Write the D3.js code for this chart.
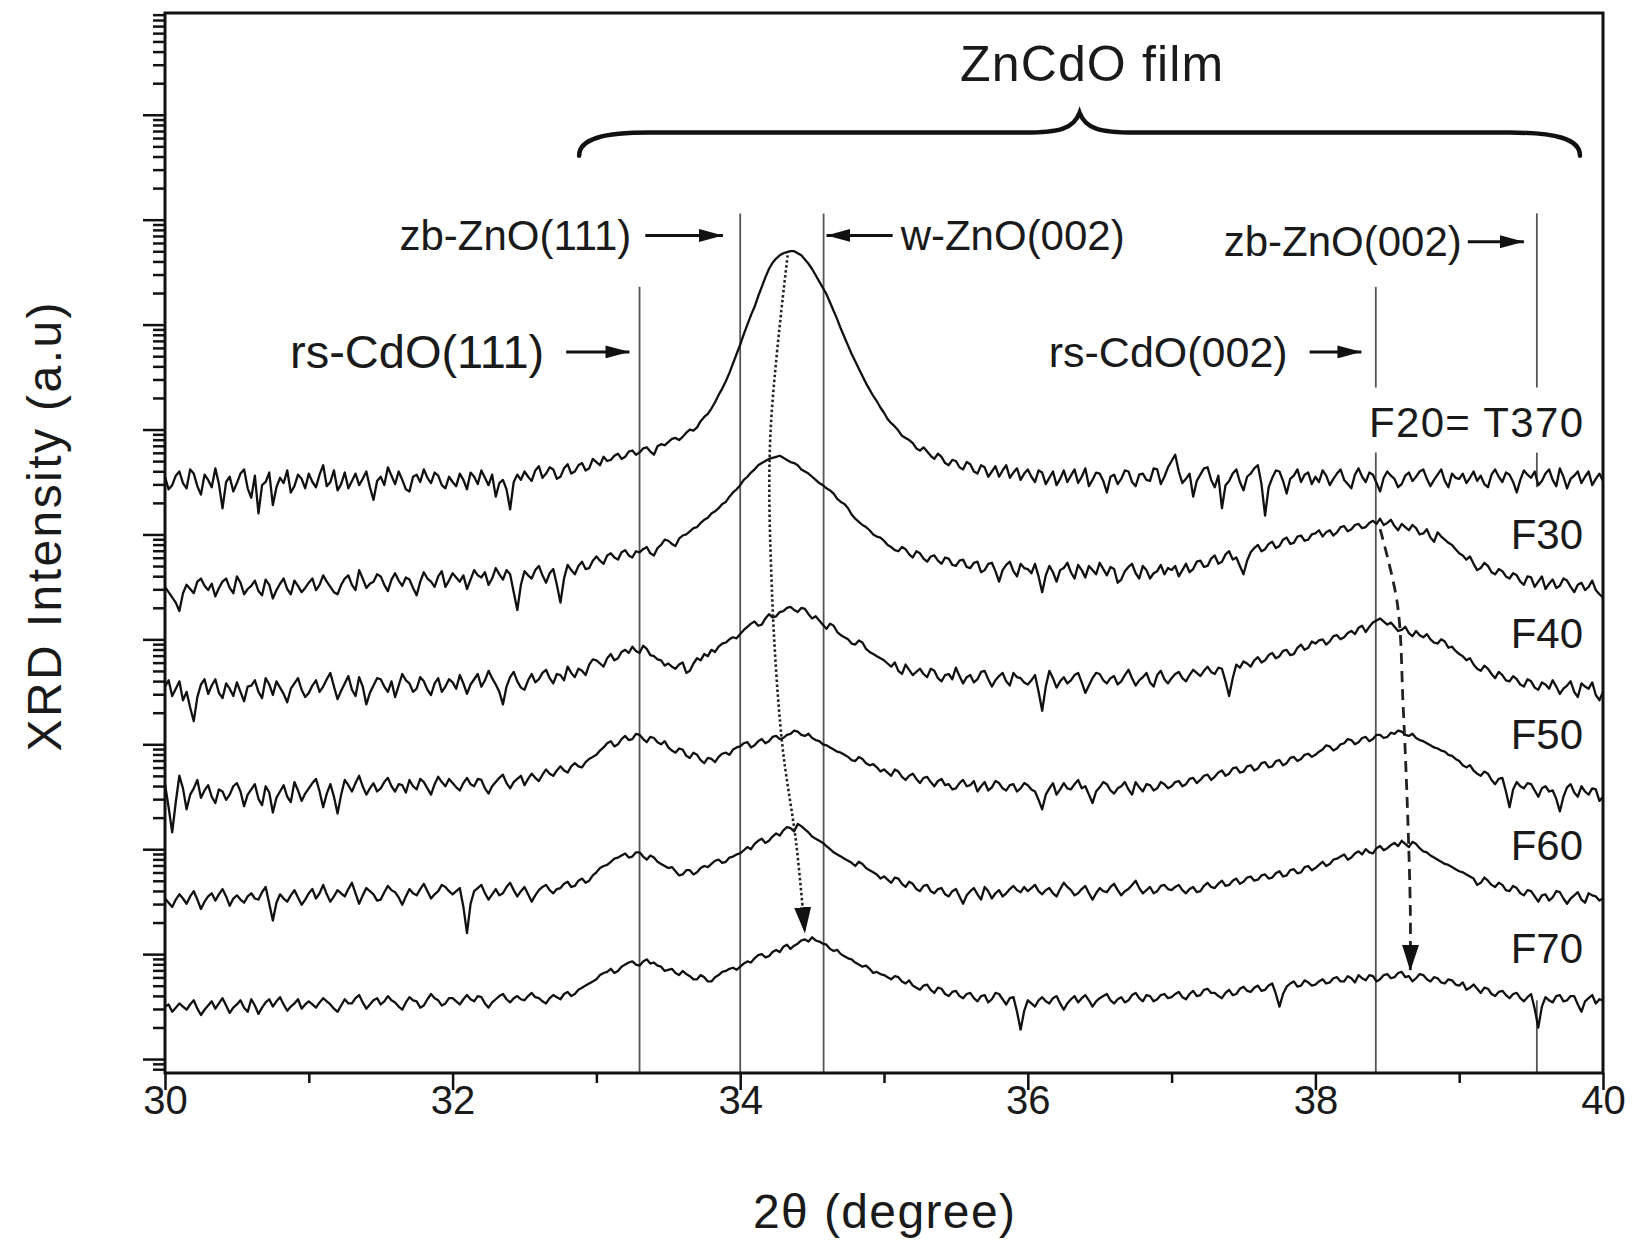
<!DOCTYPE html>
<html>
<head>
<meta charset="utf-8">
<script src="https://cdn.jsdelivr.net/npm/d3@7"></script>
<style>
  body { margin: 0; background: #fff; }
  svg text { font-family: Arial, "Liberation Sans", Helvetica, sans-serif; fill: #1a1a1a; }
</style>
</head>
<body>
<script>
const WIDTH = 1635;
const HEIGHT = 1243;

// 2-theta range of the scans; every curve is sampled evenly over it (0.025 deg)
const thetaStart = 30;
const thetaEnd = 40;

// curves, log10 of intensity (stacking offsets included)
const f20 = [
  5.55, 5.43, 5.47, 5.56, 5.60, 5.49, 5.44, 5.62, 5.58, 5.46, 5.38, 5.57, 5.52, 5.45, 5.63, 5.48, 5.25, 5.50, 5.55, 5.41, 5.49, 5.58, 5.62, 5.44, 5.35, 5.56, 5.20, 5.47, 5.50, 5.59, 5.28, 5.45, 5.54, 5.49, 5.61, 5.40, 5.46, 5.57, 5.53, 5.44,
  5.58, 5.50, 5.45, 5.57, 5.66, 5.46, 5.50, 5.61, 5.42, 5.48, 5.59, 5.44, 5.51, 5.58, 5.47, 5.53, 5.60, 5.45, 5.33, 5.51, 5.55, 5.47, 5.64, 5.56, 5.48, 5.60, 5.52, 5.43, 5.41, 5.55, 5.57, 5.50, 5.62, 5.54, 5.49, 5.59, 5.56, 5.47, 5.44, 5.55,
  5.50, 5.46, 5.58, 5.52, 5.43, 5.59, 5.55, 5.48, 5.61, 5.54, 5.47, 5.57, 5.36, 5.49, 5.52, 5.43, 5.24, 5.50, 5.57, 5.52, 5.60, 5.55, 5.51, 5.61, 5.65, 5.54, 5.58, 5.64, 5.62, 5.53, 5.55, 5.63, 5.67, 5.58, 5.60, 5.66, 5.68, 5.61, 5.63, 5.72,
  5.69, 5.66, 5.74, 5.70, 5.71, 5.75, 5.77, 5.72, 5.74, 5.79, 5.80, 5.76, 5.78, 5.82, 5.83, 5.79, 5.76, 5.84, 5.86, 5.85, 5.88, 5.91, 5.92, 5.90, 5.93, 5.97, 6.00, 5.99, 6.02, 6.08, 6.12, 6.15, 6.20, 6.26, 6.33, 6.39, 6.46, 6.54, 6.63, 6.72,
  6.81, 6.91, 7.00, 7.09, 7.17, 7.27, 7.36, 7.45, 7.53, 7.59, 7.63, 7.66, 7.68, 7.69, 7.70, 7.70, 7.68, 7.66, 7.62, 7.58, 7.53, 7.47, 7.41, 7.35, 7.29, 7.21, 7.13, 7.05, 6.96, 6.88, 6.80, 6.72, 6.65, 6.58, 6.51, 6.44, 6.38, 6.32, 6.27, 6.21,
  6.16, 6.10, 6.06, 6.03, 5.99, 5.94, 5.92, 5.90, 5.87, 5.82, 5.80, 5.83, 5.79, 5.75, 5.72, 5.77, 5.74, 5.68, 5.66, 5.71, 5.70, 5.64, 5.62, 5.69, 5.67, 5.60, 5.58, 5.66, 5.64, 5.55, 5.60, 5.65, 5.55, 5.61, 5.66, 5.54, 5.59, 5.63, 5.52, 5.58,
  5.62, 5.55, 5.50, 5.61, 5.59, 5.48, 5.54, 5.60, 5.47, 5.53, 5.61, 5.50, 5.56, 5.62, 5.49, 5.55, 5.63, 5.46, 5.52, 5.59, 5.58, 5.51, 5.40, 5.55, 5.57, 5.48, 5.53, 5.61, 5.60, 5.50, 5.46, 5.57, 5.58, 5.52, 5.51, 5.63, 5.62, 5.48, 5.55, 5.64,
  5.70, 5.76, 5.60, 5.49, 5.53, 5.58, 5.36, 5.51, 5.57, 5.63, 5.64, 5.52, 5.45, 5.56, 5.25, 5.47, 5.51, 5.58, 5.62, 5.50, 5.42, 5.55, 5.58, 5.63, 5.66, 5.48, 5.18, 5.45, 5.54, 5.61, 5.60, 5.51, 5.39, 5.53, 5.56, 5.62, 5.50, 5.57, 5.59, 5.48,
  5.55, 5.50, 5.61, 5.56, 5.47, 5.53, 5.58, 5.62, 5.52, 5.48, 5.44, 5.57, 5.63, 5.55, 5.50, 5.59, 5.57, 5.49, 5.41, 5.54, 5.60, 5.56, 5.53, 5.45, 5.48, 5.56, 5.59, 5.51, 5.55, 5.60, 5.62, 5.53, 5.46, 5.52, 5.57, 5.62, 5.51, 5.45, 5.58, 5.54,
  5.53, 5.58, 5.49, 5.54, 5.60, 5.51, 5.56, 5.48, 5.45, 5.57, 5.62, 5.55, 5.50, 5.59, 5.57, 5.50, 5.40, 5.52, 5.61, 5.57, 5.54, 5.60, 5.47, 5.51, 5.58, 5.62, 5.52, 5.46, 5.63, 5.55, 5.44, 5.53, 5.56, 5.60, 5.49, 5.55, 5.60, 5.47, 5.53, 5.58,
  5.51
];
const f30 = [
  4.50, 4.45, 4.40, 4.35, 4.27, 4.44, 4.52, 4.48, 4.44, 4.55, 4.58, 4.51, 4.47, 4.53, 4.41, 4.49, 4.55, 4.58, 4.49, 4.44, 4.60, 4.54, 4.43, 4.48, 4.51, 4.56, 4.46, 4.42, 4.57, 4.52, 4.39, 4.47, 4.53, 4.58, 4.48, 4.43, 4.56, 4.51, 4.45, 4.49,
  4.54, 4.58, 4.47, 4.52, 4.61, 4.55, 4.50, 4.45, 4.43, 4.52, 4.58, 4.61, 4.52, 4.47, 4.66, 4.58, 4.49, 4.53, 4.55, 4.62, 4.60, 4.52, 4.46, 4.57, 4.63, 4.56, 4.51, 4.59, 4.57, 4.49, 4.42, 4.55, 4.64, 4.58, 4.55, 4.50, 4.60, 4.65, 4.50, 4.56,
  4.63, 4.59, 4.55, 4.61, 4.48, 4.57, 4.66, 4.61, 4.59, 4.64, 4.52, 4.58, 4.68, 4.62, 4.57, 4.66, 4.62, 4.45, 4.28, 4.52, 4.65, 4.61, 4.58, 4.66, 4.70, 4.61, 4.54, 4.63, 4.67, 4.52, 4.35, 4.58, 4.71, 4.66, 4.62, 4.70, 4.74, 4.67, 4.68, 4.75,
  4.79, 4.75, 4.72, 4.80, 4.82, 4.78, 4.76, 4.83, 4.85, 4.80, 4.78, 4.84, 4.83, 4.86, 4.88, 4.82, 4.80, 4.87, 4.90, 4.95, 4.94, 4.91, 4.89, 4.96, 4.99, 5.00, 5.03, 5.06, 5.07, 5.11, 5.14, 5.16, 5.20, 5.22, 5.25, 5.29, 5.31, 5.36, 5.40, 5.43,
  5.47, 5.52, 5.55, 5.59, 5.62, 5.66, 5.68, 5.70, 5.72, 5.73, 5.74, 5.75, 5.73, 5.71, 5.69, 5.68, 5.66, 5.62, 5.60, 5.58, 5.55, 5.52, 5.49, 5.47, 5.44, 5.42, 5.39, 5.34, 5.31, 5.29, 5.25, 5.19, 5.15, 5.12, 5.09, 5.07, 5.04, 5.00, 4.98, 4.97,
  4.94, 4.90, 4.88, 4.85, 4.84, 4.88, 4.86, 4.81, 4.78, 4.84, 4.82, 4.77, 4.74, 4.79, 4.80, 4.75, 4.72, 4.78, 4.77, 4.71, 4.70, 4.75, 4.76, 4.69, 4.68, 4.73, 4.74, 4.64, 4.66, 4.72, 4.73, 4.65, 4.55, 4.66, 4.71, 4.74, 4.65, 4.60, 4.72, 4.68,
  4.67, 4.63, 4.72, 4.60, 4.45, 4.61, 4.70, 4.64, 4.55, 4.66, 4.68, 4.73, 4.64, 4.58, 4.71, 4.66, 4.59, 4.70, 4.66, 4.62, 4.73, 4.67, 4.61, 4.69, 4.67, 4.54, 4.57, 4.65, 4.69, 4.72, 4.63, 4.58, 4.70, 4.66, 4.58, 4.63, 4.65, 4.71, 4.62, 4.68,
  4.66, 4.70, 4.60, 4.66, 4.72, 4.64, 4.67, 4.74, 4.75, 4.69, 4.70, 4.77, 4.80, 4.72, 4.74, 4.81, 4.84, 4.76, 4.78, 4.70, 4.62, 4.75, 4.83, 4.87, 4.90, 4.84, 4.86, 4.91, 4.93, 4.87, 4.89, 4.95, 4.97, 4.91, 4.92, 4.98, 4.99, 4.94, 4.95, 5.00,
  5.01, 5.04, 4.98, 5.02, 5.04, 4.99, 5.02, 5.07, 5.08, 5.03, 5.05, 5.09, 5.10, 5.06, 5.07, 5.11, 5.13, 5.10, 5.15, 5.09, 5.11, 5.14, 5.08, 5.04, 5.10, 5.07, 5.04, 5.09, 5.06, 5.00, 5.01, 5.05, 4.97, 4.93, 5.02, 4.98, 4.95, 4.92, 4.90, 4.86,
  4.82, 4.80, 4.76, 4.79, 4.72, 4.66, 4.68, 4.73, 4.70, 4.64, 4.62, 4.67, 4.65, 4.60, 4.58, 4.63, 4.61, 4.55, 4.52, 4.60, 4.59, 4.50, 4.55, 4.60, 4.48, 4.53, 4.57, 4.49, 4.51, 4.58, 4.56, 4.50, 4.45, 4.52, 4.54, 4.47, 4.50, 4.56, 4.47, 4.43,
  4.40
];
const f40 = [
  3.55, 3.61, 3.46, 3.53, 3.60, 3.42, 3.50, 3.35, 3.22, 3.45, 3.57, 3.62, 3.48, 3.56, 3.62, 3.49, 3.44, 3.58, 3.53, 3.46, 3.59, 3.50, 3.41, 3.55, 3.56, 3.61, 3.50, 3.44, 3.63, 3.57, 3.47, 3.60, 3.54, 3.48, 3.40, 3.53, 3.58, 3.63, 3.52, 3.45,
  3.49, 3.56, 3.61, 3.50, 3.55, 3.62, 3.68, 3.55, 3.43, 3.51, 3.58, 3.65, 3.52, 3.46, 3.64, 3.55, 3.38, 3.49, 3.56, 3.63, 3.62, 3.55, 3.50, 3.60, 3.45, 3.56, 3.67, 3.61, 3.58, 3.50, 3.53, 3.64, 3.60, 3.52, 3.47, 3.58, 3.63, 3.50, 3.55, 3.62,
  3.59, 3.53, 3.66, 3.58, 3.48, 3.57, 3.62, 3.67, 3.55, 3.61, 3.70, 3.63, 3.57, 3.50, 3.38, 3.55, 3.64, 3.69, 3.60, 3.54, 3.52, 3.61, 3.67, 3.59, 3.62, 3.68, 3.71, 3.63, 3.58, 3.67, 3.66, 3.61, 3.74, 3.68, 3.64, 3.72, 3.70, 3.66, 3.76, 3.81,
  3.80, 3.77, 3.74, 3.82, 3.86, 3.80, 3.82, 3.88, 3.90, 3.87, 3.93, 3.89, 3.87, 3.94, 3.91, 3.85, 3.84, 3.81, 3.80, 3.75, 3.77, 3.74, 3.72, 3.76, 3.78, 3.68, 3.70, 3.77, 3.82, 3.80, 3.86, 3.84, 3.90, 3.88, 3.93, 3.96, 3.97, 4.00, 4.02, 4.01,
  4.05, 4.09, 4.12, 4.15, 4.17, 4.13, 4.14, 4.20, 4.24, 4.21, 4.22, 4.26, 4.27, 4.30, 4.31, 4.28, 4.26, 4.30, 4.29, 4.24, 4.20, 4.22, 4.18, 4.14, 4.10, 4.15, 4.13, 4.07, 4.04, 4.02, 4.00, 3.96, 3.95, 3.99, 3.97, 3.91, 3.88, 3.86, 3.84, 3.82,
  3.80, 3.77, 3.74, 3.78, 3.70, 3.67, 3.76, 3.71, 3.66, 3.69, 3.72, 3.67, 3.64, 3.72, 3.70, 3.63, 3.60, 3.66, 3.67, 3.62, 3.73, 3.65, 3.58, 3.64, 3.66, 3.59, 3.62, 3.69, 3.70, 3.62, 3.55, 3.61, 3.65, 3.68, 3.60, 3.56, 3.68, 3.64, 3.63, 3.59,
  3.57, 3.61, 3.66, 3.50, 3.32, 3.55, 3.70, 3.63, 3.54, 3.60, 3.64, 3.58, 3.61, 3.66, 3.68, 3.59, 3.49, 3.56, 3.63, 3.68, 3.67, 3.61, 3.58, 3.63, 3.65, 3.57, 3.60, 3.66, 3.71, 3.63, 3.56, 3.61, 3.64, 3.68, 3.59, 3.55, 3.66, 3.70, 3.62, 3.58,
  3.63, 3.67, 3.69, 3.63, 3.60, 3.66, 3.71, 3.68, 3.65, 3.70, 3.74, 3.69, 3.67, 3.73, 3.72, 3.60, 3.46, 3.63, 3.76, 3.73, 3.79, 3.77, 3.74, 3.80, 3.83, 3.78, 3.80, 3.85, 3.87, 3.82, 3.84, 3.89, 3.90, 3.85, 3.86, 3.92, 3.95, 3.90, 3.92, 3.98,
  3.96, 3.99, 4.00, 3.95, 3.98, 4.03, 4.04, 4.00, 4.02, 4.06, 4.08, 4.05, 4.11, 4.13, 4.07, 4.12, 4.16, 4.18, 4.20, 4.17, 4.14, 4.16, 4.12, 4.08, 4.09, 4.12, 4.06, 4.03, 4.08, 4.04, 4.02, 4.05, 4.00, 3.97, 3.96, 4.00, 3.98, 3.92, 3.93, 3.89,
  3.86, 3.84, 3.80, 3.82, 3.76, 3.72, 3.70, 3.75, 3.72, 3.67, 3.63, 3.69, 3.66, 3.61, 3.60, 3.65, 3.62, 3.57, 3.55, 3.62, 3.60, 3.54, 3.52, 3.59, 3.57, 3.53, 3.61, 3.55, 3.48, 3.53, 3.56, 3.60, 3.50, 3.45, 3.58, 3.55, 3.53, 3.59, 3.47, 3.42,
  3.50
];
const f50 = [
  2.62, 2.40, 2.16, 2.45, 2.70, 2.58, 2.38, 2.52, 2.58, 2.66, 2.49, 2.56, 2.61, 2.50, 2.44, 2.57, 2.55, 2.47, 2.52, 2.60, 2.63, 2.55, 2.41, 2.52, 2.57, 2.62, 2.48, 2.42, 2.60, 2.54, 2.35, 2.49, 2.55, 2.61, 2.50, 2.45, 2.64, 2.56, 2.46, 2.53,
  2.58, 2.63, 2.67, 2.55, 2.40, 2.53, 2.62, 2.50, 2.34, 2.52, 2.66, 2.61, 2.55, 2.63, 2.70, 2.60, 2.52, 2.58, 2.63, 2.55, 2.58, 2.64, 2.68, 2.60, 2.55, 2.62, 2.61, 2.54, 2.66, 2.60, 2.57, 2.67, 2.64, 2.58, 2.52, 2.62, 2.69, 2.64, 2.60, 2.67,
  2.63, 2.59, 2.56, 2.63, 2.68, 2.62, 2.60, 2.67, 2.66, 2.58, 2.53, 2.60, 2.64, 2.68, 2.71, 2.63, 2.58, 2.64, 2.67, 2.70, 2.61, 2.67, 2.72, 2.68, 2.65, 2.71, 2.76, 2.72, 2.70, 2.75, 2.79, 2.75, 2.73, 2.79, 2.82, 2.79, 2.78, 2.83, 2.86, 2.88,
  2.90, 2.94, 2.97, 3.01, 3.03, 2.98, 3.00, 3.05, 3.08, 3.04, 3.05, 3.10, 3.09, 3.05, 3.02, 3.07, 3.06, 3.02, 3.00, 3.03, 2.97, 2.94, 2.92, 2.96, 2.95, 2.89, 2.87, 2.92, 2.90, 2.85, 2.82, 2.87, 2.86, 2.83, 2.88, 2.91, 2.92, 2.90, 2.95, 2.97,
  2.98, 3.01, 3.02, 2.97, 2.99, 3.03, 3.05, 3.01, 3.03, 3.07, 3.08, 3.05, 3.06, 3.09, 3.10, 3.13, 3.12, 3.09, 3.08, 3.10, 3.06, 3.04, 3.03, 3.00, 2.99, 2.97, 2.95, 2.93, 2.92, 2.90, 2.88, 2.85, 2.84, 2.88, 2.86, 2.82, 2.80, 2.81, 2.78, 2.74,
  2.76, 2.73, 2.70, 2.76, 2.74, 2.69, 2.66, 2.70, 2.72, 2.67, 2.63, 2.68, 2.69, 2.64, 2.60, 2.65, 2.67, 2.61, 2.62, 2.57, 2.58, 2.63, 2.66, 2.60, 2.61, 2.65, 2.55, 2.60, 2.64, 2.56, 2.59, 2.65, 2.63, 2.58, 2.56, 2.61, 2.62, 2.55, 2.58, 2.63,
  2.61, 2.57, 2.55, 2.47, 2.38, 2.52, 2.58, 2.63, 2.52, 2.57, 2.63, 2.58, 2.57, 2.62, 2.66, 2.58, 2.60, 2.52, 2.44, 2.55, 2.59, 2.64, 2.62, 2.56, 2.53, 2.58, 2.60, 2.64, 2.57, 2.52, 2.64, 2.59, 2.55, 2.62, 2.61, 2.56, 2.58, 2.64, 2.62, 2.58,
  2.60, 2.64, 2.65, 2.60, 2.62, 2.67, 2.68, 2.63, 2.66, 2.70, 2.71, 2.66, 2.69, 2.73, 2.75, 2.70, 2.72, 2.77, 2.78, 2.73, 2.74, 2.79, 2.80, 2.75, 2.77, 2.82, 2.83, 2.78, 2.79, 2.84, 2.85, 2.80, 2.82, 2.87, 2.88, 2.84, 2.86, 2.90, 2.91, 2.88,
  2.90, 2.93, 2.95, 2.99, 2.98, 2.94, 2.96, 3.00, 3.01, 3.05, 3.04, 3.00, 3.02, 3.06, 3.07, 3.03, 3.05, 3.09, 3.09, 3.06, 3.07, 3.11, 3.10, 3.13, 3.12, 3.09, 3.08, 3.10, 3.06, 3.04, 3.03, 3.01, 2.99, 2.97, 2.96, 2.94, 2.93, 2.90, 2.89, 2.86,
  2.84, 2.80, 2.78, 2.80, 2.75, 2.72, 2.70, 2.74, 2.72, 2.66, 2.62, 2.67, 2.68, 2.55, 2.40, 2.57, 2.64, 2.60, 2.58, 2.63, 2.62, 2.56, 2.50, 2.58, 2.60, 2.55, 2.56, 2.48, 2.36, 2.50, 2.59, 2.62, 2.54, 2.50, 2.60, 2.55, 2.52, 2.58, 2.57, 2.46,
  2.50
];
const f60 = [
  1.53, 1.49, 1.45, 1.52, 1.57, 1.53, 1.48, 1.55, 1.60, 1.52, 1.43, 1.50, 1.55, 1.58, 1.51, 1.57, 1.62, 1.55, 1.46, 1.53, 1.56, 1.52, 1.49, 1.55, 1.58, 1.53, 1.52, 1.59, 1.64, 1.48, 1.32, 1.49, 1.57, 1.53, 1.50, 1.56, 1.61, 1.54, 1.47, 1.52,
  1.58, 1.62, 1.53, 1.58, 1.66, 1.57, 1.50, 1.55, 1.61, 1.58, 1.55, 1.62, 1.68, 1.58, 1.48, 1.56, 1.63, 1.60, 1.57, 1.51, 1.52, 1.59, 1.65, 1.61, 1.59, 1.54, 1.47, 1.55, 1.62, 1.58, 1.56, 1.62, 1.67, 1.60, 1.53, 1.57, 1.60, 1.66, 1.64, 1.60,
  1.57, 1.60, 1.63, 1.45, 1.20, 1.48, 1.60, 1.63, 1.66, 1.58, 1.52, 1.57, 1.62, 1.56, 1.58, 1.64, 1.68, 1.61, 1.55, 1.60, 1.64, 1.57, 1.50, 1.56, 1.61, 1.64, 1.66, 1.61, 1.58, 1.62, 1.63, 1.67, 1.69, 1.64, 1.65, 1.70, 1.72, 1.68, 1.70, 1.75,
  1.78, 1.82, 1.84, 1.85, 1.88, 1.91, 1.92, 1.94, 1.96, 1.92, 1.93, 1.97, 1.97, 1.93, 1.90, 1.94, 1.92, 1.88, 1.86, 1.84, 1.82, 1.83, 1.79, 1.75, 1.76, 1.80, 1.80, 1.76, 1.78, 1.82, 1.84, 1.83, 1.86, 1.89, 1.90, 1.87, 1.88, 1.92, 1.93, 1.95,
  1.96, 1.99, 2.02, 2.00, 2.05, 2.08, 2.10, 2.06, 2.08, 2.12, 2.15, 2.13, 2.18, 2.21, 2.20, 2.17, 2.24, 2.22, 2.19, 2.16, 2.12, 2.10, 2.08, 2.06, 2.03, 2.00, 1.97, 1.95, 1.93, 1.91, 1.89, 1.87, 1.84, 1.88, 1.86, 1.82, 1.80, 1.78, 1.76, 1.72,
  1.74, 1.71, 1.68, 1.73, 1.72, 1.67, 1.64, 1.69, 1.67, 1.62, 1.60, 1.65, 1.66, 1.60, 1.58, 1.62, 1.63, 1.57, 1.55, 1.60, 1.62, 1.55, 1.48, 1.56, 1.60, 1.63, 1.57, 1.52, 1.64, 1.60, 1.53, 1.58, 1.61, 1.55, 1.58, 1.62, 1.65, 1.61, 1.59, 1.64,
  1.60, 1.63, 1.66, 1.60, 1.57, 1.61, 1.63, 1.58, 1.55, 1.62, 1.68, 1.64, 1.61, 1.56, 1.58, 1.62, 1.65, 1.58, 1.52, 1.58, 1.63, 1.60, 1.59, 1.64, 1.67, 1.61, 1.56, 1.60, 1.62, 1.66, 1.70, 1.63, 1.58, 1.61, 1.64, 1.58, 1.60, 1.65, 1.66, 1.62,
  1.61, 1.64, 1.66, 1.61, 1.58, 1.62, 1.64, 1.59, 1.60, 1.65, 1.68, 1.64, 1.63, 1.67, 1.70, 1.65, 1.66, 1.70, 1.72, 1.67, 1.69, 1.73, 1.74, 1.70, 1.71, 1.75, 1.76, 1.72, 1.73, 1.77, 1.79, 1.74, 1.75, 1.80, 1.81, 1.77, 1.78, 1.83, 1.84, 1.80,
  1.82, 1.85, 1.88, 1.84, 1.86, 1.90, 1.91, 1.93, 1.95, 1.90, 1.92, 1.96, 1.98, 1.95, 2.00, 1.97, 1.96, 2.01, 2.03, 1.99, 2.01, 2.04, 2.06, 2.03, 2.08, 2.05, 2.02, 2.07, 2.05, 2.01, 1.98, 1.97, 1.94, 1.92, 1.90, 1.88, 1.86, 1.85, 1.83, 1.81,
  1.79, 1.78, 1.76, 1.74, 1.72, 1.66, 1.68, 1.73, 1.70, 1.66, 1.64, 1.68, 1.66, 1.61, 1.60, 1.65, 1.63, 1.58, 1.56, 1.61, 1.60, 1.55, 1.50, 1.56, 1.57, 1.51, 1.54, 1.60, 1.59, 1.53, 1.48, 1.53, 1.56, 1.59, 1.52, 1.49, 1.58, 1.56, 1.55, 1.51,
  1.53
];
const f70 = [
  0.50, 0.52, 0.45, 0.49, 0.53, 0.50, 0.47, 0.52, 0.56, 0.48, 0.42, 0.47, 0.51, 0.55, 0.48, 0.53, 0.58, 0.51, 0.44, 0.49, 0.52, 0.56, 0.49, 0.45, 0.57, 0.51, 0.43, 0.49, 0.54, 0.57, 0.50, 0.55, 0.59, 0.52, 0.46, 0.50, 0.53, 0.57, 0.48, 0.52,
  0.55, 0.52, 0.49, 0.54, 0.58, 0.55, 0.52, 0.48, 0.45, 0.51, 0.57, 0.53, 0.53, 0.58, 0.61, 0.54, 0.48, 0.52, 0.56, 0.58, 0.52, 0.55, 0.60, 0.56, 0.54, 0.50, 0.47, 0.54, 0.59, 0.56, 0.55, 0.49, 0.51, 0.57, 0.62, 0.58, 0.56, 0.51, 0.53, 0.58,
  0.58, 0.55, 0.52, 0.57, 0.61, 0.57, 0.55, 0.60, 0.59, 0.53, 0.49, 0.54, 0.57, 0.60, 0.62, 0.57, 0.54, 0.58, 0.60, 0.57, 0.56, 0.60, 0.63, 0.59, 0.58, 0.55, 0.53, 0.58, 0.61, 0.59, 0.57, 0.62, 0.64, 0.60, 0.62, 0.66, 0.68, 0.70, 0.72, 0.74,
  0.76, 0.80, 0.82, 0.83, 0.86, 0.82, 0.84, 0.88, 0.90, 0.92, 0.93, 0.90, 0.89, 0.93, 0.95, 0.91, 0.92, 0.89, 0.88, 0.84, 0.85, 0.86, 0.82, 0.80, 0.84, 0.81, 0.79, 0.76, 0.76, 0.80, 0.78, 0.74, 0.74, 0.78, 0.80, 0.83, 0.84, 0.86, 0.87, 0.85,
  0.88, 0.91, 0.93, 0.92, 0.96, 0.99, 1.00, 0.97, 0.98, 1.02, 1.04, 1.02, 1.07, 1.09, 1.05, 1.08, 1.10, 1.13, 1.14, 1.12, 1.16, 1.13, 1.12, 1.10, 1.09, 1.05, 1.03, 1.04, 1.00, 0.98, 0.96, 0.95, 0.92, 0.90, 0.88, 0.89, 0.86, 0.82, 0.83, 0.81,
  0.80, 0.78, 0.76, 0.79, 0.78, 0.74, 0.72, 0.75, 0.70, 0.68, 0.66, 0.70, 0.71, 0.66, 0.63, 0.68, 0.67, 0.62, 0.60, 0.64, 0.65, 0.60, 0.58, 0.62, 0.63, 0.58, 0.55, 0.60, 0.61, 0.54, 0.57, 0.63, 0.62, 0.57, 0.52, 0.58, 0.59, 0.45, 0.28, 0.46,
  0.56, 0.53, 0.50, 0.56, 0.59, 0.55, 0.53, 0.58, 0.60, 0.53, 0.47, 0.53, 0.57, 0.60, 0.54, 0.58, 0.61, 0.56, 0.50, 0.55, 0.58, 0.60, 0.62, 0.56, 0.53, 0.57, 0.59, 0.54, 0.56, 0.61, 0.63, 0.58, 0.55, 0.61, 0.60, 0.55, 0.57, 0.61, 0.62, 0.58,
  0.59, 0.62, 0.64, 0.59, 0.57, 0.62, 0.65, 0.60, 0.61, 0.66, 0.67, 0.63, 0.63, 0.60, 0.58, 0.63, 0.66, 0.61, 0.62, 0.67, 0.69, 0.65, 0.64, 0.68, 0.70, 0.65, 0.66, 0.70, 0.72, 0.62, 0.50, 0.62, 0.69, 0.72, 0.74, 0.69, 0.70, 0.75, 0.73, 0.70,
  0.71, 0.74, 0.76, 0.72, 0.73, 0.77, 0.78, 0.74, 0.74, 0.79, 0.77, 0.73, 0.80, 0.77, 0.75, 0.80, 0.79, 0.74, 0.76, 0.80, 0.81, 0.77, 0.78, 0.82, 0.83, 0.78, 0.79, 0.74, 0.77, 0.81, 0.80, 0.76, 0.74, 0.78, 0.77, 0.73, 0.72, 0.76, 0.75, 0.71,
  0.70, 0.73, 0.66, 0.68, 0.71, 0.67, 0.63, 0.68, 0.67, 0.62, 0.60, 0.64, 0.65, 0.61, 0.58, 0.62, 0.63, 0.58, 0.55, 0.59, 0.62, 0.48, 0.30, 0.50, 0.59, 0.56, 0.54, 0.60, 0.61, 0.55, 0.56, 0.60, 0.60, 0.52, 0.45, 0.55, 0.58, 0.61, 0.53, 0.57,
  0.56
];
const curves = [f20, f30, f40, f50, f60, f70];
const sampleNames = ["F20= T370", "F30", "F40", "F50", "F60", "F70"];
const sampleLevels = [6.07, 5.00, 4.06, 3.09, 2.04, 1.05];

// reference peak positions (2theta) and their drawn segments [top, bottom] in log10 units
const peakNames = ["rs-CdO(111)", "zb-ZnO(111)", "w-ZnO(002)", "rs-CdO(002)", "zb-ZnO(002)"];
const peakPos = [33.3, 34.0, 34.58, 38.42, 39.54];
const peakSegments = [
  [[7.36, -0.133]],
  [[8.06, -0.133]],
  [[8.06, -0.133]],
  [[7.36, 6.40], [5.78, -0.133]],
  [[8.06, 6.40], [5.78, 5.45], [0.56, -0.133]]
];
// label arrows: tail, tip (2theta) and height (log10 units)
const arrowTail = [32.79, 33.34, 35.06, 37.96, 39.06];
const arrowTip = [33.23, 33.88, 34.60, 38.32, 39.45];
const arrowLevel = [6.74, 7.85, 7.85, 6.74, 7.79];
const labelSize = [47, 42, 42, 43, 42];

// peak shift guides
const shiftZnO = [[34.33, 7.66], [34.21, 5.95], [34.22, 4.49], [34.29, 3.03], [34.39, 2.05], [34.45, 1.20]];
const shiftCdO = [[38.45, 5.05], [38.57, 4.34], [38.61, 3.37], [38.64, 2.39], [38.66, 1.42], [38.66, 0.84]];

const xMajor = [30, 32, 34, 36, 38, 40];
const xMinor = [31, 33, 35, 37, 39];

const SVG = d3
  .select("body")
  .append("svg")
  .attr("width", WIDTH)
  .attr("height", HEIGHT)
  .style("background", "#fff");

const x = d3.scaleLinear().domain([thetaStart, thetaEnd]).range([165, 1603]);
const y = d3.scaleLog().domain([Math.pow(10, -0.133), Math.pow(10, 9.97)]).range([1073, 13]);
const yv = (v) => y(Math.pow(10, v));

// log ticks (no labels on this axis)
const yMajor = d3.range(0, 10).map((k) => Math.pow(10, k));
const yMinor = [];
for (let k = -1; k < 10; k++) {
  for (let m = 2; m <= 9; m++) {
    const t = m * Math.pow(10, k);
    if (t >= y.domain()[0] && t <= y.domain()[1]) yMinor.push(t);
  }
}

const defs = SVG.append("defs");
const addHead = (id, len, wid) => {
  defs.append("marker")
    .attr("id", id)
    .attr("markerUnits", "userSpaceOnUse")
    .attr("markerWidth", len)
    .attr("markerHeight", wid)
    .attr("refX", len)
    .attr("refY", wid / 2)
    .attr("orient", "auto")
    .append("path")
    .attr("d", `M0,0L${len},${wid / 2}L0,${wid}Z`)
    .attr("fill", "#111");
};
addHead("head", 24, 13);
addHead("headBig", 26, 17);

// reference lines
const refs = SVG.append("g").attr("stroke", "#555").attr("stroke-width", 1.8);
peakPos.forEach((p, i) => {
  refs.selectAll(null)
    .data(peakSegments[i])
    .join("line")
    .attr("x1", x(p))
    .attr("x2", x(p))
    .attr("y1", (d) => yv(d[0]))
    .attr("y2", (d) => yv(d[1]));
});

// curves
const line = d3.line()
  .x((d, i, data) => x(thetaStart + (thetaEnd - thetaStart) * i / (data.length - 1)))
  .y((d) => yv(d));

SVG.append("g")
  .attr("fill", "none")
  .attr("stroke", "#111")
  .attr("stroke-width", 2.3)
  .attr("stroke-linejoin", "round")
  .selectAll("path")
  .data(curves)
  .join("path")
  .attr("d", line);

// shift guides
const guide = d3.line()
  .x((d) => x(d[0]))
  .y((d) => yv(d[1]))
  .curve(d3.curveCatmullRom);

SVG.append("path")
  .attr("d", guide(shiftZnO))
  .attr("fill", "none")
  .attr("stroke", "#222")
  .attr("stroke-width", 2.6)
  .attr("stroke-dasharray", "2.5,2.5")
  .attr("marker-end", "url(#headBig)");

SVG.append("path")
  .attr("d", guide(shiftCdO))
  .attr("fill", "none")
  .attr("stroke", "#222")
  .attr("stroke-width", 2.8)
  .attr("stroke-dasharray", "11,7")
  .attr("marker-end", "url(#headBig)");

// peak labels with arrows
peakNames.forEach((name, i) => {
  const yy = yv(arrowLevel[i]);
  SVG.append("line")
    .attr("x1", x(arrowTail[i]))
    .attr("x2", x(arrowTip[i]))
    .attr("y1", yy)
    .attr("y2", yy)
    .attr("stroke", "#111")
    .attr("stroke-width", 3)
    .attr("marker-end", "url(#head)");
  const leftSide = arrowTip[i] > arrowTail[i];
  const gap = i === 1 ? 14 : (i === 4 ? 6 : (i === 2 ? 8 : 22));
  SVG.append("text")
    .attr("x", leftSide ? x(arrowTail[i]) - gap : x(arrowTail[i]) + gap)
    .attr("y", yy)
    .attr("dominant-baseline", "central")
    .attr("text-anchor", leftSide ? "end" : "start")
    .attr("font-size", labelSize[i])
    .text(name);
});

// sample labels
SVG.append("g")
  .selectAll("text")
  .data(sampleNames)
  .join("text")
  .attr("x", x(40) - 20)
  .attr("y", (d, i) => yv(sampleLevels[i]))
  .attr("dominant-baseline", "central")
  .attr("text-anchor", "end")
  .attr("font-size", 42)
  .attr("textLength", (d, i) => (i === 0 ? 214 : null))
  .text((d) => d);

// brace over the film peaks
const xl = x(32.88), xc = x(36.36), xr = x(39.84);
const yEnd = yv(8.61), yStr = yv(8.83), yCusp = yv(9.02);
const brace = d3.path();
brace.moveTo(xl, yEnd);
brace.bezierCurveTo(xl, yStr + 6, xl + 25, yStr, xl + 70, yStr);
brace.lineTo(xc - 55, yStr);
brace.bezierCurveTo(xc - 20, yStr, xc - 6, yStr - 4, xc, yCusp);
brace.bezierCurveTo(xc + 6, yStr - 4, xc + 20, yStr, xc + 55, yStr);
brace.lineTo(xr - 70, yStr);
brace.bezierCurveTo(xr - 25, yStr, xr, yStr + 6, xr, yEnd);
SVG.append("path")
  .attr("d", brace.toString())
  .attr("fill", "none")
  .attr("stroke", "#111")
  .attr("stroke-width", 4.5)
  .attr("stroke-linecap", "round");

SVG.append("text")
  .attr("x", xc + 12)
  .attr("y", 81)
  .attr("text-anchor", "middle")
  .attr("font-size", 50)
  .attr("textLength", 263)
  .text("ZnCdO film");

// axes
const xAxis = SVG.append("g").attr("transform", "translate(0,1073)");
xAxis.call(d3.axisBottom(x).tickValues(xMajor).tickSize(17).tickSizeOuter(0).tickFormat(d3.format("d")));
xAxis.append("g").call(d3.axisBottom(x).tickValues(xMinor).tickSize(10).tickSizeOuter(0).tickFormat(""));
xAxis.selectAll("text")
  .attr("y", 13)
  .attr("font-size", 40)
  .attr("fill", "#1a1a1a")
  .style("font-family", "Arial, 'Liberation Sans', sans-serif");

const yAxis = SVG.append("g").attr("transform", "translate(165,0)");
yAxis.call(d3.axisLeft(y).tickValues(yMajor).tickSize(22).tickSizeOuter(0).tickFormat(""));
yAxis.append("g").call(d3.axisLeft(y).tickValues(yMinor).tickSize(12).tickSizeOuter(0).tickFormat(""));

SVG.selectAll(".tick line").attr("stroke", "#111").attr("stroke-width", 2.5);
SVG.selectAll(".domain").remove();

SVG.append("rect")
  .attr("x", 165)
  .attr("y", 13)
  .attr("width", 1603 - 165)
  .attr("height", 1073 - 13)
  .attr("fill", "none")
  .attr("stroke", "#111")
  .attr("stroke-width", 3);

SVG.append("text")
  .attr("x", (165 + 1603) / 2)
  .attr("y", 1228)
  .attr("text-anchor", "middle")
  .attr("font-size", 48)
  .attr("textLength", 262)
  .text("2θ (degree)");

SVG.append("text")
  .attr("transform", "translate(61,527) rotate(-90)")
  .attr("text-anchor", "middle")
  .attr("font-size", 48)
  .attr("textLength", 449)
  .text("XRD Intensity (a.u)");
</script>
</body>
</html>
